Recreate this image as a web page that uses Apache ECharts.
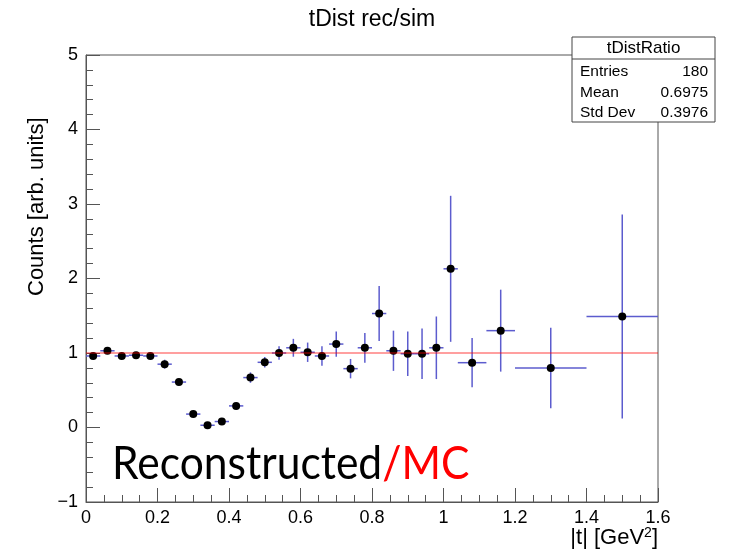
<!DOCTYPE html>
<html>
<head>
<meta charset="utf-8">
<script src="https://cdn.jsdelivr.net/npm/echarts@6/dist/echarts.min.js"></script>
<style>
  html, body { margin: 0; padding: 0; background: #fff; }
  #chart { width: 732px; height: 556px; }
</style>
</head>
<body>
<div id="chart"></div>
<script>
// |t| bin centres and half-widths (GeV^2)
const binCenter = [0.02, 0.06, 0.10, 0.14, 0.18, 0.22, 0.26, 0.30, 0.34, 0.38,
                   0.42, 0.46, 0.50, 0.54, 0.58, 0.62, 0.66, 0.70, 0.74, 0.78,
                   0.82, 0.86, 0.90, 0.94, 0.98, 1.02, 1.08, 1.16, 1.30, 1.50];
const binHalfWidth = [0.02, 0.02, 0.02, 0.02, 0.02, 0.02, 0.02, 0.02, 0.02, 0.02,
                      0.02, 0.02, 0.02, 0.02, 0.02, 0.02, 0.02, 0.02, 0.02, 0.02,
                      0.02, 0.02, 0.02, 0.02, 0.02, 0.02, 0.04, 0.04, 0.10, 0.10];
// reconstructed / simulated ratio per bin and its uncertainty
const ratio = [0.96, 1.03, 0.96, 0.97, 0.96, 0.85, 0.61, 0.18, 0.03, 0.08,
               0.29, 0.67, 0.875, 1.00, 1.07, 1.01, 0.96, 1.12, 0.79, 1.07,
               1.53, 1.03, 0.99, 0.99, 1.07, 2.13, 0.87, 1.30, 0.80, 1.49];
const ratioErr = [0.02, 0.02, 0.02, 0.02, 0.02, 0.06, 0.03, 0.03, 0.02, 0.03,
                  0.03, 0.07, 0.07, 0.09, 0.12, 0.13, 0.13, 0.17, 0.13, 0.20,
                  0.37, 0.27, 0.30, 0.34, 0.42, 0.98, 0.33, 0.55, 0.54, 1.37];
// reference level drawn across the full range
const unityLevel = 1;
// axis ranges
const xRange = [0, 1.6];
const yRange = [-1, 5];
// statistics box
const statsTitle = 'tDistRatio';
const statsLabels = ['Entries', 'Mean', 'Std Dev'];
const statsValues = ['180', '0.6975', '0.3976'];

const points = binCenter.map((c, i) => [c, ratio[i], binHalfWidth[i], ratioErr[i]]);

const chart = echarts.init(document.getElementById('chart'), null, { renderer: 'canvas' });

const FONT = '"Liberation Sans", Arial, Helvetica, sans-serif';
const BIG_FONT = 'Lato, "Open Sans", sans-serif';
const frameColor = '#555';
const errColor = 'rgb(92, 92, 206)';

const gridL = 86, gridR = 658, gridT = 55, gridB = 502;

chart.setOption({
  animation: false,
  backgroundColor: '#fff',
  grid: {
    left: gridL, right: 732 - gridR, top: gridT, bottom: 556 - gridB,
    show: true, borderColor: frameColor, borderWidth: 1,
    containLabel: false, outerBoundsMode: 'none'
  },
  xAxis: {
    type: 'value', min: xRange[0], max: xRange[1], interval: 0.2,
    axisLine: { show: true, onZero: false, lineStyle: { color: frameColor, width: 1 } },
    axisTick: { show: true, inside: true, length: 14, lineStyle: { color: frameColor } },
    minorTick: { show: true, splitNumber: 4, length: 7, lineStyle: { color: frameColor } },
    splitLine: { show: false },
    axisLabel: {
      color: '#000', fontFamily: FONT, fontSize: 18, margin: 7,
      formatter: v => String(Math.round(v * 10) / 10)
    }
  },
  yAxis: {
    type: 'value', min: yRange[0], max: yRange[1], interval: 1,
    axisLine: { show: true, onZero: false, lineStyle: { color: frameColor, width: 1 } },
    axisTick: { show: true, inside: true, length: 14, lineStyle: { color: frameColor } },
    minorTick: { show: true, splitNumber: 5, length: 7, lineStyle: { color: frameColor } },
    splitLine: { show: false },
    axisLabel: {
      color: '#000', fontFamily: FONT, fontSize: 18, margin: 8,
      formatter: v => String(v).replace('-', '\u2212')
    }
  },
  series: [
    {
      type: 'custom',
      data: points,
      z: 2,
      renderItem: (params, api) => {
        const c = api.value(0), v = api.value(1), hw = api.value(2), e = api.value(3);
        const pL = api.coord([c - hw, v]);
        const pR = api.coord([c + hw, v]);
        const pT = api.coord([c, v + e]);
        const pB = api.coord([c, v - e]);
        const pc = api.coord([c, v]);
        const ls = { stroke: errColor, lineWidth: 1.5 };
        return {
          type: 'group',
          children: [
            { type: 'line', shape: { x1: pL[0], y1: pL[1], x2: pR[0], y2: pR[1] }, style: ls },
            { type: 'line', shape: { x1: pT[0], y1: pT[1], x2: pB[0], y2: pB[1] }, style: ls },
            { type: 'circle', shape: { cx: pc[0], cy: pc[1], r: 4 }, style: { fill: '#000' } }
          ]
        };
      }
    },
    {
      type: 'line',
      data: [[xRange[0], unityLevel], [xRange[1], unityLevel]],
      symbol: 'none',
      z: 3,
      lineStyle: { color: 'rgba(255, 0, 0, 0.5)', width: 1.5 },
      silent: true
    }
  ],
  graphic: [
    {
      type: 'text', x: (gridL + gridR) / 2, y: 20,
      style: { text: 'tDist rec/sim', font: '23px ' + FONT, fill: '#000', textAlign: 'center', textVerticalAlign: 'middle' }
    },
    {
      type: 'text', rotation: Math.PI / 2, x: 26, y: 296,
      style: { text: 'Counts [arb. units]', font: '22px ' + FONT, fill: '#000', textAlign: 'left', textVerticalAlign: 'top' }
    },
    {
      type: 'text', x: gridR, y: 526,
      style: {
        text: '{n||t| [GeV}{s|2}{n|]}', textAlign: 'right', textVerticalAlign: 'top',
        rich: {
          n: { fontFamily: FONT, fontSize: 22, fill: '#000' },
          s: { fontFamily: FONT, fontSize: 14, fill: '#000', verticalAlign: 'top', padding: [0, 0, 9, 0] }
        }
      }
    },
    {
      type: 'text', x: 112, y: 441, scaleX: 0.925,
      style: {
        text: '{a|Reconstructed}{b|/MC}', textVerticalAlign: 'top',
        rich: {
          a: { fontFamily: BIG_FONT, fontSize: 46, fill: '#000' },
          b: { fontFamily: BIG_FONT, fontSize: 46, fill: '#f00' }
        }
      }
    },
    {
      type: 'group', x: 572, y: 37, z: 100,
      children: [
        { type: 'rect', shape: { x: 0, y: 0, width: 143, height: 85 }, style: { fill: '#fff', stroke: '#444', lineWidth: 1 } },
        { type: 'line', shape: { x1: 0, y1: 22, x2: 143, y2: 22 }, style: { stroke: '#444', lineWidth: 1 } },
        { type: 'text', x: 71.5, y: 11.5, style: { text: statsTitle, font: '17px ' + FONT, fill: '#000', textAlign: 'center', textVerticalAlign: 'middle' } }
      ].concat(statsLabels.map((s, i) => ({
        type: 'text', x: 8, y: 35 + i * 20.5,
        style: { text: s, font: '15.5px ' + FONT, fill: '#000', textAlign: 'left', textVerticalAlign: 'middle' }
      }))).concat(statsValues.map((s, i) => ({
        type: 'text', x: 136, y: 35 + i * 20.5,
        style: { text: s, font: '15.5px ' + FONT, fill: '#000', textAlign: 'right', textVerticalAlign: 'middle' }
      })))
    }
  ]
});
</script>
</body>
</html>
